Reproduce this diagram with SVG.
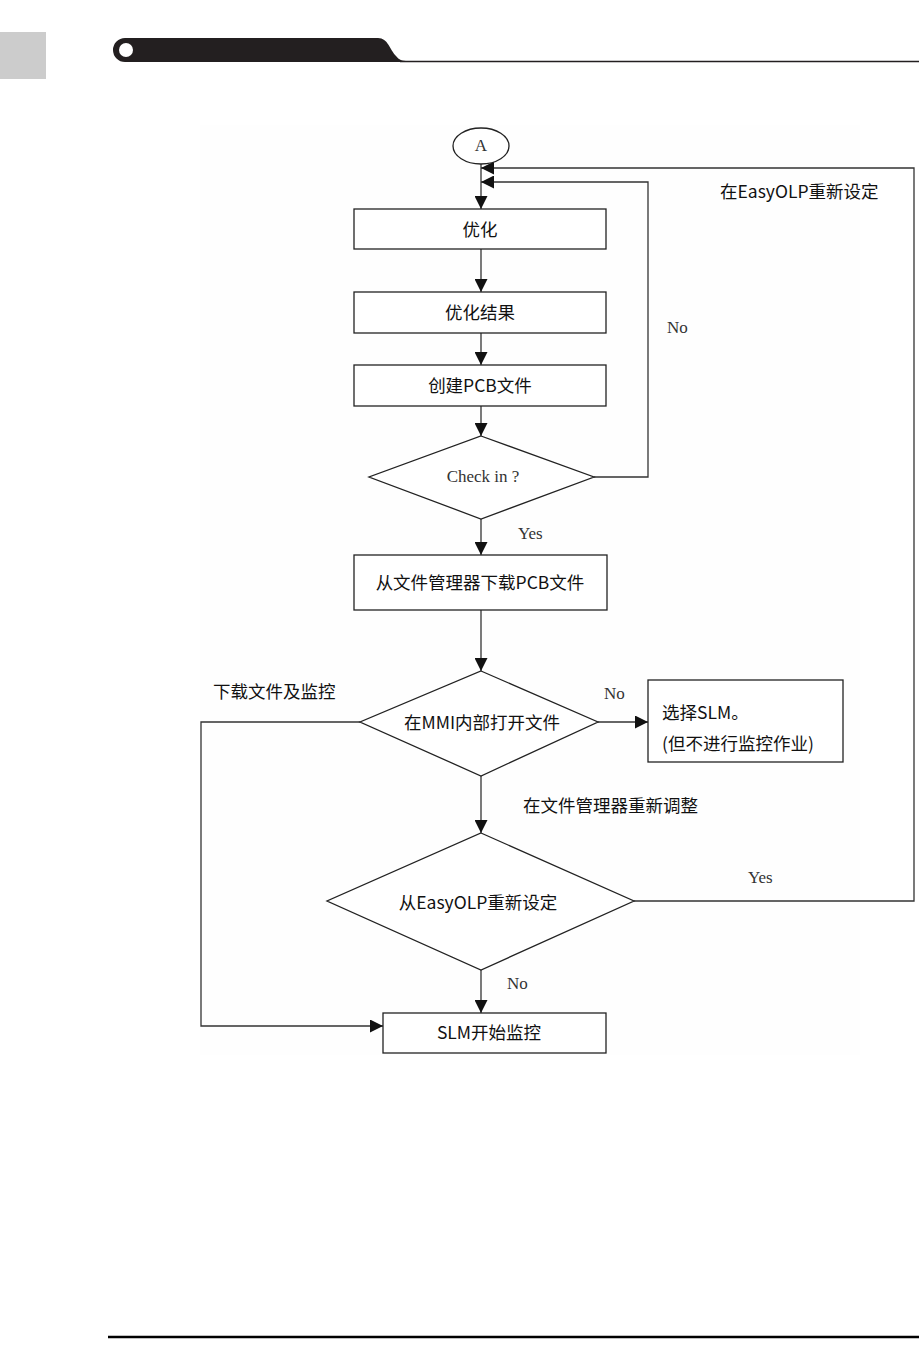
<svg xmlns="http://www.w3.org/2000/svg" width="919" height="1367" viewBox="0 0 919 1367">
<style>
.box{fill:#fff;stroke:#222;stroke-width:1.3}
.ln{fill:none;stroke:#333;stroke-width:1.3}
.cn{font-family:"Noto Sans CJK SC","Liberation Sans",sans-serif;font-size:17.5px;fill:#111}
.sr{font-family:"Liberation Serif","DejaVu Serif",serif;font-size:17px;fill:#333}
</style>
<defs>
<marker id="ah" viewBox="0 0 10 10" refX="10" refY="5" markerWidth="13" markerHeight="13" markerUnits="userSpaceOnUse" orient="auto">
<path d="M0,0 L10,5 L0,10 Z" fill="#111"/>
</marker>
</defs>
<rect width="919" height="1367" fill="#fff"/>
<g id="header">
<rect x="0" y="32" width="46" height="47" fill="#cccccc"/>
<path d="M125,38 L378,38 C388,38 390,50 396,56 C399,60 402,61 408,61 L408,62 L125,62 A12,12 0 0 1 125,38 Z" fill="#231f20"/>
<circle cx="126" cy="50" r="7" fill="#fff"/>
<line x1="400" y1="61.5" x2="919" y2="61.5" stroke="#231f20" stroke-width="1.5"/>
</g>
<rect x="200" y="125" width="660" height="930" fill="#fefefe"/>
<g id="connectors">
<line class="ln" x1="481" y1="164" x2="481" y2="209" marker-end="url(#ah)"/>
<line class="ln" x1="481" y1="249" x2="481" y2="292" marker-end="url(#ah)"/>
<line class="ln" x1="481" y1="333" x2="481" y2="365" marker-end="url(#ah)"/>
<line class="ln" x1="481" y1="406" x2="481" y2="436" marker-end="url(#ah)"/>
<polyline class="ln" points="594,477 648,477 648,182 481,182" marker-end="url(#ah)"/>
<polyline class="ln" points="634,901 914,901 914,168 481,168" marker-end="url(#ah)"/>
<line class="ln" x1="481" y1="519" x2="481" y2="555" marker-end="url(#ah)"/>
<line class="ln" x1="481" y1="610" x2="481" y2="671" marker-end="url(#ah)"/>
<line class="ln" x1="598" y1="722" x2="648" y2="722" marker-end="url(#ah)"/>
<polyline class="ln" points="360,722 201,722 201,1026 383,1026" marker-end="url(#ah)"/>
<line class="ln" x1="481" y1="776" x2="481" y2="833" marker-end="url(#ah)"/>
<line class="ln" x1="481" y1="970" x2="481" y2="1013" marker-end="url(#ah)"/>
<text class="sr" x="667" y="333">No</text>
<text class="sr" x="518" y="539">Yes</text>
<text class="sr" x="604" y="699">No</text>
<text class="sr" x="748" y="883">Yes</text>
<text class="sr" x="507" y="989">No</text>
<text class="cn" x="720" y="198">在EasyOLP重新设定</text>
<text class="cn" x="213" y="698">下载文件及监控</text>
<text class="cn" x="523" y="812">在文件管理器重新调整</text>
</g>
<g id="nodeA">
<ellipse cx="481" cy="146" rx="28" ry="18" fill="#fff" stroke="#222" stroke-width="1.3"/>
<text class="sr" x="481" y="151" text-anchor="middle" font-size="15">A</text>
</g>
<g id="n1"><rect class="box" x="354" y="209" width="252" height="40"/><text class="cn" x="480" y="236" text-anchor="middle">优化</text></g>
<g id="n2"><rect class="box" x="354" y="292" width="252" height="41"/><text class="cn" x="480" y="319" text-anchor="middle">优化结果</text></g>
<g id="n3"><rect class="box" x="354" y="365" width="252" height="41"/><text class="cn" x="480" y="392" text-anchor="middle">创建PCB文件</text></g>
<g id="d1"><polygon class="box" points="481,436 594,477 481,519 369,477"/><text class="sr" x="483" y="482" text-anchor="middle">Check in ?</text></g>
<g id="n4"><rect class="box" x="354" y="555" width="253" height="55"/><text class="cn" x="480" y="589" text-anchor="middle">从文件管理器下载PCB文件</text></g>
<g id="d2"><polygon class="box" points="481,671 598,722 481,776 360,722"/><text class="cn" x="482" y="729" text-anchor="middle">在MMI内部打开文件</text></g>
<g id="n5"><rect class="box" x="648" y="680" width="195" height="82"/><text class="cn" x="662" y="719">选择SLM。</text><text class="cn" x="662" y="750">(但不进行监控作业)</text></g>
<g id="d3"><polygon class="box" points="481,833 634,901 481,970 327,901"/><text class="cn" x="478" y="909" text-anchor="middle">从EasyOLP重新设定</text></g>
<g id="n6"><rect class="box" x="383" y="1013" width="223" height="40"/><text class="cn" x="489" y="1039" text-anchor="middle">SLM开始监控</text></g>
<line x1="108" y1="1337" x2="919" y2="1337" stroke="#000" stroke-width="2.5"/>
</svg>
